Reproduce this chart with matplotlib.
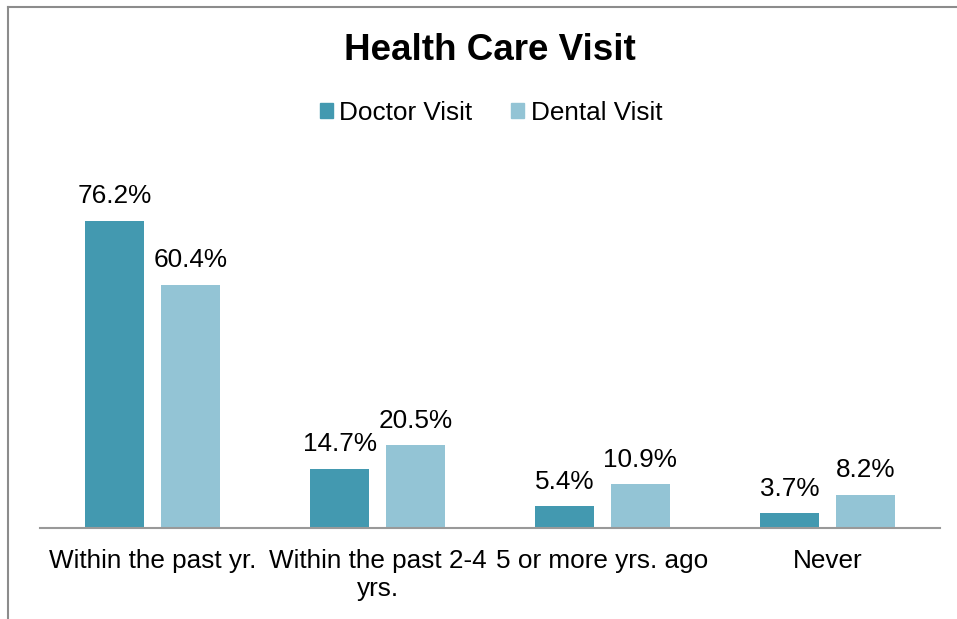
import matplotlib
matplotlib.use("Agg")
import matplotlib.pyplot as plt
from matplotlib.patches import Patch
from matplotlib.lines import Line2D
import numpy as np

categories = ["Within the past yr.", "Within the past 2-4\nyrs.", "5 or more yrs. ago", "Never"]
doctor = [76.2, 14.7, 5.4, 3.7]
dental = [60.4, 20.5, 10.9, 8.2]
series_names = ["Doctor Visit", "Dental Visit"]
colors = ["#4399B0", "#93C4D5"]

plt.rcParams['font.family'] = ['Liberation Sans', 'DejaVu Sans']

W, H = 957, 619
fig = plt.figure(figsize=(W/100, H/100), dpi=100)
ax_bottom = 528
ax_top = 528 - 4.03 * 80
ax = fig.add_axes([40/W, (H-ax_bottom)/H, 900/W, (ax_bottom-ax_top)/H])

x = np.arange(len(categories))
bw = 0.262
off = 0.168
b1 = ax.bar(x - off, doctor, bw, color=colors[0])
b2 = ax.bar(x + off, dental, bw, color=colors[1])
for bars, vals in ((b1, doctor), (b2, dental)):
    for r, v in zip(bars, vals):
        ax.annotate(f"{v}%", (r.get_x() + r.get_width()/2, v), xytext=(0, 9),
                    textcoords="offset points", ha="center", va="bottom", fontsize=18.8)

ax.set_xlim(-0.5, 3.5)
ax.set_ylim(0, 80)
ax.set_xticks(x)
ax.set_xticklabels(categories, fontsize=18.8, linespacing=1.2)
ax.tick_params(axis='x', length=0, pad=15)
ax.set_yticks([])
for s in ("top", "right", "left"):
    ax.spines[s].set_visible(False)
ax.spines["bottom"].set_color("#999999")
ax.spines["bottom"].set_linewidth(1.5)

fig.text(490/W, 1 - 51/H, "Health Care Visit", ha="center", va="center",
         fontsize=26.5, fontweight="bold")

handles = [Patch(color=c) for c in colors]
fig.legend(handles, series_names, loc="center", bbox_to_anchor=(491/W, 1 - 113/H),
           ncol=2, frameon=False, fontsize=18.8, handlelength=0.5, handleheight=0.5,
           handletextpad=0.25, columnspacing=1.5)

# chart frame (partially visible)
fig.add_artist(Line2D([8/W, 1.0], [1 - 7/H, 1 - 7/H], color="#8c8c8c", lw=1.5))
fig.add_artist(Line2D([8/W, 8/W], [0, 1 - 7/H], color="#8c8c8c", lw=1.5))

fig.savefig("out.png", dpi=100)
